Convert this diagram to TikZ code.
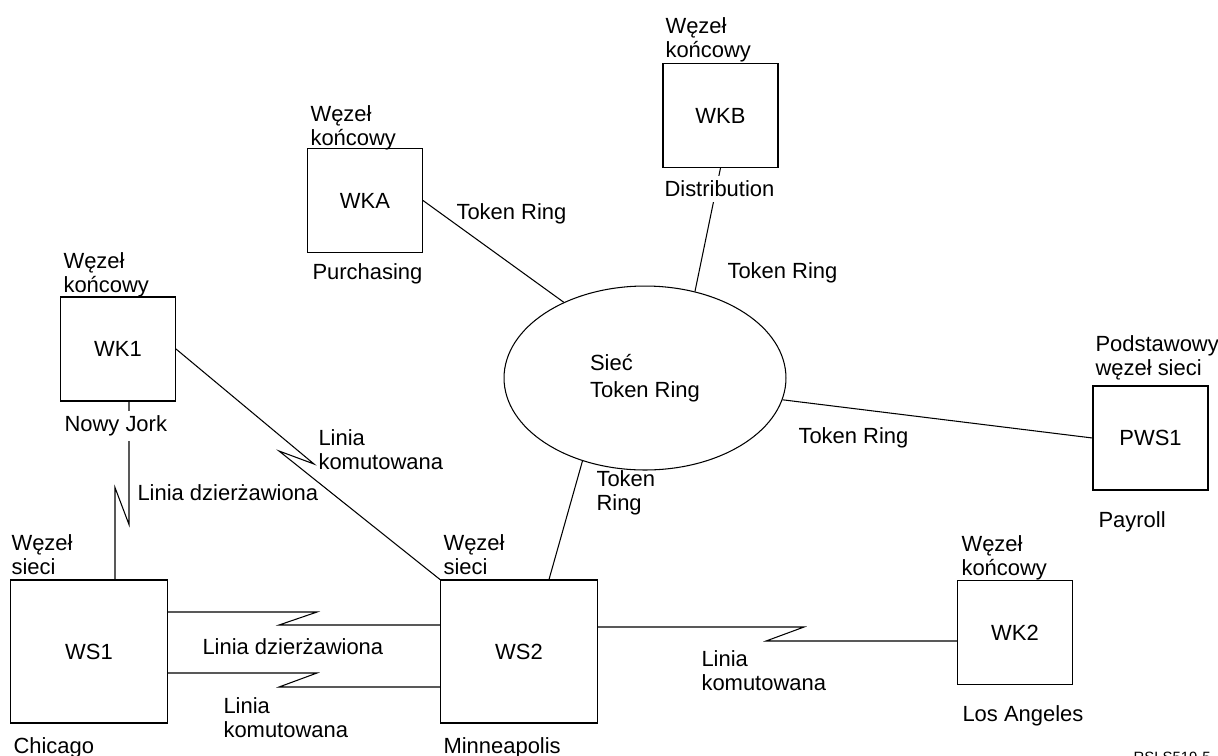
\documentclass[tikz,border=0pt]{standalone}
\usepackage{fontspec}
\setmainfont{Liberation Sans}
\usetikzlibrary{shapes.geometric}

\begin{document}
\begin{tikzpicture}[
        x=0.02cm, y=-0.02cm, line width=0.6pt,
        every node/.style={font=\fontsize{12.5pt}{13.6pt}\selectfont},
        netbox/.style={draw, minimum width=3.14cm, minimum height=2.86cm, inner sep=0pt},
        endbox/.style={draw, minimum width=2.3cm, minimum height=2.08cm, inner sep=0pt},
        lbl/.style={anchor=north west, inner sep=0pt, align=left},
        cut/.style={lbl, fill=white, inner sep=0.1cm},
    ]
    \useasboundingbox (0,0) rectangle (1218,755);

    \node[netbox] (ws1) at (89,651.5) {WS1};
    \node[netbox] (ws2) at (519,651.5) {WS2};
    \node[endbox] (wk1) at (118,349) {WK1};
    \node[endbox] (wk2) at (1015,632.5) {WK2};
    \node[endbox] (wka) at (365,200.5) {WKA};
    \node[endbox] (wkb) at (720.5,115.5) {WKB};
    \node[endbox] (pws1) at (1150.5,438) {PWS1};
    \node[draw, ellipse, minimum width=5.64cm, minimum height=3.68cm, inner sep=0pt,
          align=left, font=\fontsize{12.5pt}{15.3pt}\selectfont] (net) at (645,378) {Sieć\\Token Ring};

    \draw (wka.east) -- (net.137);
    \draw (wkb.south) -- (net.60);
    \draw (net.-9) -- (pws1.west);
    \draw ([xshift=0.6cm]ws2.north) -- (net.233);

    \draw ([xshift=0.22cm]wk1.south) -- ++(0,123) -- ++(-14,-37) -- ([xshift=0.52cm]ws1.north);
    \draw (wk1.east) -- ++(138,115) -- ++(-35,-13) -- (ws2.north west);
    \draw ([yshift=0.79cm]ws1.east) -- ++(149,0) -- ++(-38,13) -- ([yshift=0.53cm]ws2.west);
    \draw ([yshift=-0.43cm]ws1.east) -- ++(149,0) -- ++(-38,14) -- ([yshift=-0.71cm]ws2.west);
    \draw ([yshift=0.49cm]ws2.east) -- ++(206,0) -- ++(-38,14) -- ([yshift=-0.17cm]wk2.west);

    \node[lbl] (wkb-type) at (665,17) {Węzeł\\końcowy};
    \node[lbl] (wka-type) at (310,105) {Węzeł\\końcowy};
    \node[lbl] (wk1-type) at (63,252) {Węzeł\\końcowy};
    \node[lbl] (pws1-type) at (1095,335) {Podstawowy\\węzeł sieci};
    \node[lbl] (ws1-type) at (11,534) {Węzeł\\sieci};
    \node[lbl] (ws2-type) at (443,534) {Węzeł\\sieci};
    \node[lbl] (wk2-type) at (961,535) {Węzeł\\końcowy};

    \node[lbl] (wka-place) at (312,263) {Purchasing};
    \node[cut] (wkb-place) at (659,175) {Distribution};
    \node[cut] (wk1-place) at (59,410) {Nowy Jork};
    \node[lbl] (pws1-place) at (1098,511) {Payroll};
    \node[lbl] (ws1-place) at (13,737) {Chicago};
    \node[lbl] (ws2-place) at (443,737) {Minneapolis};
    \node[lbl] (wk2-place) at (962,705) {Los Angeles};

    \node[lbl] (ws-leased) at (202,638) {Linia dzierżawiona};
    \node[lbl] (ws-switched) at (223,697) {Linia\\komutowana};
    \node[lbl] (wk1-switched) at (318,429) {Linia\\komutowana};
    \node[lbl] (wk1-leased) at (137,484) {Linia dzierżawiona};
    \node[lbl] (wk2-switched) at (701,650) {Linia\\komutowana};

    \node[lbl] (wka-ring) at (456,203) {Token Ring};
    \node[lbl] (wkb-ring) at (727,262) {Token Ring};
    \node[lbl] (pws1-ring) at (798,427) {Token Ring};
    \node[lbl] (ws2-ring) at (596,470) {Token\\Ring};

    \node[lbl, font=\fontsize{8.5pt}{10pt}\selectfont] (fig-id) at (1133,752) {RSLS519-5};
\end{tikzpicture}
\end{document}
